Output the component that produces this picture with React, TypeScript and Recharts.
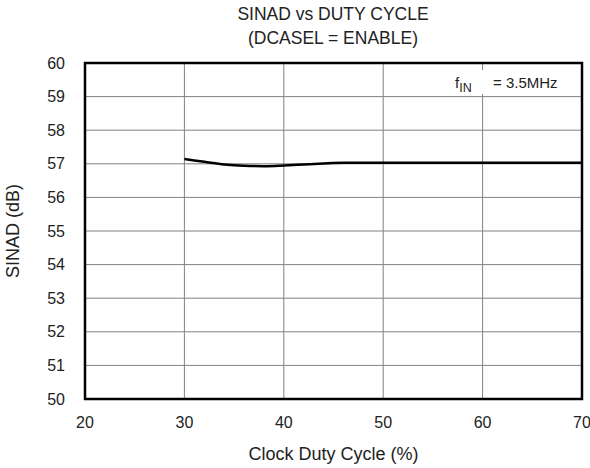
import { LineChart, Line, XAxis, YAxis, CartesianGrid, ReferenceArea } from "recharts";

const dutyCycle = [30, 32, 34, 36, 38, 40, 42, 44, 46, 50, 55, 60, 65, 70];
const sinad = [57.14, 57.06, 56.98, 56.94, 56.93, 56.95, 56.98, 57.01, 57.03, 57.03, 57.03, 57.03, 57.03, 57.03];
const xTicks = [20, 30, 40, 50, 60, 70];
const yTicks = [50, 51, 52, 53, 54, 55, 56, 57, 58, 59, 60];

const data = dutyCycle.map((d, i) => ({ duty: d, sinad: sinad[i] }));

const font = '"Liberation Sans", Arial, sans-serif';
const tickStyle = { fontSize: 16, fill: "#222", fontFamily: font };
const labelStyle = { fontSize: 18, fill: "#222", fontFamily: font };

export default function App() {
  return (
    <div style={{ position: "relative", width: 590, height: 468, fontFamily: font, color: "#222" }}>
      <style>{`body{margin:0}`}</style>
      <div style={{ position: "absolute", left: 0, width: 666, top: 2, textAlign: "center", fontSize: 17.5, lineHeight: "24px" }}>
        SINAD vs DUTY CYCLE
        <br />
        (DCASEL = ENABLE)
      </div>
      <LineChart width={590} height={468} data={data} margin={{ top: 63, right: 8, bottom: 8, left: 10 }}>
        <CartesianGrid stroke="#808080" strokeWidth={1} />
        <XAxis
          dataKey="duty"
          type="number"
          domain={[20, 70]}
          ticks={xTicks}
          axisLine={false}
          tickLine={false}
          tick={tickStyle}
          tickMargin={12}
          height={61}
          label={{ value: "Clock Duty Cycle (%)", position: "insideBottom", offset: 0, style: labelStyle }}
        />
        <YAxis
          type="number"
          domain={[50, 60]}
          ticks={yTicks}
          axisLine={false}
          tickLine={false}
          tick={tickStyle}
          tickMargin={14}
          width={75}
          label={{ value: "SINAD (dB)", angle: -90, position: "insideLeft", offset: 3, style: { ...labelStyle, textAnchor: "middle" } }}
        />
        <ReferenceArea x1={20} x2={70} y1={50} y2={60} fill="none" stroke="#000" strokeWidth={2.5} ifOverflow="extendDomain" />
        <Line dataKey="sinad" type="monotone" stroke="#000" strokeWidth={2.5} dot={false} isAnimationActive={false} />
      </LineChart>
      <div style={{ position: "absolute", left: 450, top: 70, width: 115, height: 24, background: "#fff", fontSize: 15, whiteSpace: "nowrap" }}>
        <span style={{ position: "absolute", left: 5, top: 4 }}>
          f<sub style={{ fontSize: 12.5 }}>IN</sub>
        </span>
        <span style={{ position: "absolute", left: 43, top: 4 }}>= 3.5MHz</span>
      </div>
    </div>
  );
}
